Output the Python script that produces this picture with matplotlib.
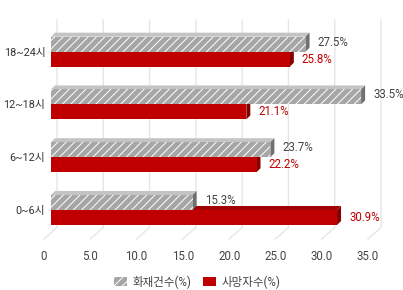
import matplotlib
matplotlib.use("Agg")
import matplotlib.pyplot as plt
from matplotlib.patches import Polygon, Patch
from matplotlib.transforms import ScaledTranslation

plt.rcParams['font.family'] = ['Roboto', 'Noto Sans CJK KR', 'DejaVu Sans']
plt.rcParams['hatch.color'] = 'white'
plt.rcParams['hatch.linewidth'] = 0.7

categories = ['0~6시', '6~12시', '12~18시', '18~24시']
fire_pct = [15.3, 23.7, 33.5, 27.5]
death_pct = [30.9, 22.2, 21.1, 25.8]
series_names = ['화재건수(%)', '사망자수(%)']
xticks = [0, 5, 10, 15, 20, 25, 30, 35]
xtick_labels = ['0', '5.0', '10.0', '15.0', '20.0', '25.0', '30.0', '35.0']

W, H, DPI = 403, 290, 100
fig = plt.figure(figsize=(W / DPI, H / DPI), dpi=DPI)
ax = fig.add_axes([51 / W, 1 - 239 / H, (375 - 51) / W, (239 - 20) / H])
ax.set_xlim(0, 35)
ax.set_ylim(-0.55, 3.6)

px_x = 35 / (375 - 51)
px_y = 4.15 / (239 - 20)
dx, dy = 4 * px_x, 4 * px_y
h = 15 * px_y

gshift = 6 * px_x
for t in xticks:
    ax.plot([t + gshift, t + gshift, t - 7 * px_x],
            [3.6, -0.33, -0.55], color='#e6e6e6', lw=1.0, zorder=0,
            clip_on=False)

gray_front, gray_top, gray_side = '#a6a6a6', '#c4c4c4', '#707070'
red_front, red_top, red_side = '#c00000', '#a00000', '#860000'

ypos = list(range(len(categories)))

def faces(v, yb, top_c, side_c):
    yt = yb + h
    top = Polygon([(0, yt), (v, yt), (v + dx, yt + dy), (dx, yt + dy)],
                  closed=True, facecolor=top_c, edgecolor='none', zorder=2)
    side = Polygon([(v, yb), (v, yt), (v + dx, yt + dy), (v + dx, yb + dy)],
                   closed=True, facecolor=side_c, edgecolor='none', zorder=2)
    ax.add_patch(top)
    ax.add_patch(side)

FS = 8.3
for y, f, d in zip(ypos, fire_pct, death_pct):
    yb_r = y - h
    faces(d, yb_r, red_top, red_side)
    ax.barh(yb_r, d, height=h, align='edge', color=red_front,
            edgecolor='none', zorder=2)
    yb_g = y
    faces(f, yb_g, gray_top, gray_side)
    ax.barh(yb_g, f, height=h, align='edge', color=gray_front,
            edgecolor='white', linewidth=0, hatch='////', zorder=3)
    ax.text(f + 12 * px_x, yb_g + h / 2 + 2 * px_y, f'{f:.1f}%',
            ha='left', va='center', fontsize=FS, color='#444444', zorder=5)
    ax.text(d + 12 * px_x, yb_r + h / 2, f'{d:.1f}%',
            ha='left', va='center', fontsize=FS, color='#c00000', zorder=5)

ax.set_xticks(xticks)
ax.set_xticklabels(xtick_labels, fontsize=FS, color='#444444')
ax.set_yticks(ypos)
ax.set_yticklabels(categories, fontsize=7.8, color='#333333')
ax.tick_params(axis='both', length=0)
ax.tick_params(axis='x', pad=8)
ax.tick_params(axis='y', pad=4)
for lab in ax.get_xticklabels():
    lab.set_transform(lab.get_transform() +
                      ScaledTranslation(-7 / DPI, 0, fig.dpi_scale_trans))
for s in ax.spines.values():
    s.set_visible(False)

handles = [Patch(facecolor=gray_front, edgecolor='white', linewidth=0,
                 hatch='////', label=series_names[0]),
           Patch(facecolor=red_front, edgecolor='none', label=series_names[1])]
fig.legend(handles=handles, loc='center', bbox_to_anchor=(0.49, 0.028),
           ncol=2, frameon=False, fontsize=FS, handlelength=1.1,
           handleheight=0.8, handletextpad=0.5, columnspacing=1.0,
           labelcolor='#444444')

fig.savefig('out.png', dpi=DPI)
